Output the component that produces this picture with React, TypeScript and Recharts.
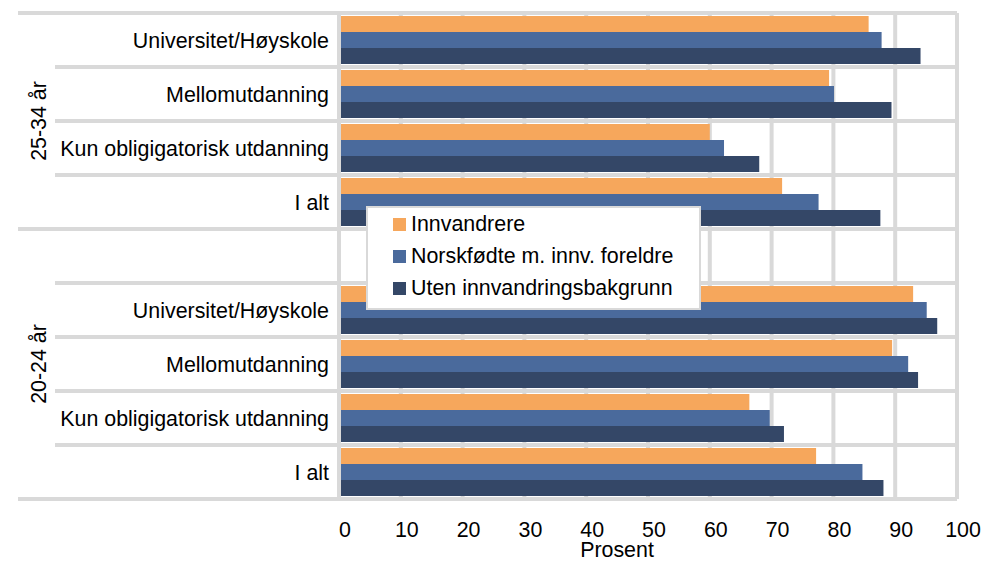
import React from "react";
import {
  BarChart,
  Bar,
  XAxis,
  YAxis,
  CartesianGrid,
  Label,
} from "recharts";

// Kategorier (tom kategori = mellomrom mellom aldersgruppene)
const CATEGORIES = [
  "Universitet/Høyskole",
  "Mellomutdanning",
  "Kun obligigatorisk utdanning",
  "I alt",
  "",
  "Universitet/Høyskole",
  "Mellomutdanning",
  "Kun obligigatorisk utdanning",
  "I alt",
];

const GROUPS = [
  { label: "25-34 år", size: 4 },
  { label: "20-24 år", size: 5 },
];

const INNVANDRERE = [85.7, 79.3, 60.0, 71.7, null, 92.9, 89.5, 66.4, 77.2];
const NORSKFODTE = [87.8, 80.1, 62.3, 77.6, null, 95.1, 92.1, 69.7, 84.7];
const UTEN_BAKGRUNN = [94.1, 89.4, 68.0, 87.6, null, 96.8, 93.7, 72.0, 88.1];

const X_TICKS = [0, 10, 20, 30, 40, 50, 60, 70, 80, 90, 100];

const SERIES = [
  { key: "innv", name: "Innvandrere", color: "#F6A75C", values: INNVANDRERE },
  { key: "norsk", name: "Norskfødte m. innv. foreldre", color: "#4A6A9C", values: NORSKFODTE },
  { key: "uten", name: "Uten innvandringsbakgrunn", color: "#344767", values: UTEN_BAKGRUNN },
];

const data = CATEGORIES.map((label, i) => {
  const row: any = { key: `c${i}`, label };
  SERIES.forEach((s) => {
    row[s.key] = s.values[i];
  });
  return row;
});

// layout
const W = 982;
const H = 561;
const MARGIN = { top: 13, right: 25, bottom: 0, left: 0 };
const Y_AXIS_W = 339;
const X_AXIS_H = 62;
const PLOT_H = H - MARGIN.top - MARGIN.bottom - X_AXIS_H;
const BAND = PLOT_H / CATEGORIES.length;
const GRID = "#D9D9D9";
const FONT = "'Liberation Sans', Arial, sans-serif";
const FS = 21.4;

const groupStarts: number[] = [];
GROUPS.reduce((acc, g) => {
  groupStarts.push(acc);
  return acc + g.size;
}, 0);

const CategoryTick = (props: any) => {
  const { y } = props;
  const index = props.index ?? props.payload?.index ?? 0;
  const top = y - BAND / 2;
  const gi = groupStarts.indexOf(index);
  const isLast = index === CATEGORIES.length - 1;
  return (
    <g>
      <line x1={gi >= 0 ? 18 : 55} x2={Y_AXIS_W} y1={top} y2={top} stroke={GRID} strokeWidth={4} />
      {isLast && (
        <line x1={18} x2={Y_AXIS_W} y1={top + BAND} y2={top + BAND} stroke={GRID} strokeWidth={4} />
      )}
      <text x={329} y={y} dy="0.355em" textAnchor="end" fontSize={FS} fill="#000" fontFamily={FONT}>
        {CATEGORIES[index]}
      </text>
      {gi >= 0 && (
        <text
          x={38}
          y={top + (GROUPS[gi].size * BAND) / 2}
          dy="0.355em"
          textAnchor="middle"
          fontSize={FS}
          fill="#000"
          fontFamily={FONT}
          transform={`rotate(-90 38 ${top + (GROUPS[gi].size * BAND) / 2})`}
        >
          {GROUPS[gi].label}
        </text>
      )}
    </g>
  );
};

const ValueTick = (props: any) => {
  const { x, payload } = props;
  return (
    <text x={x + 6} y={H - X_AXIS_H + 38} textAnchor="middle" fontSize={FS} fill="#000" fontFamily={FONT}>
      {payload.value}
    </text>
  );
};

export default function App() {
  return (
    <div style={{ position: "relative", width: W, height: H, background: "#fff" }}>
      <style>{"body{margin:0}"}</style>
      <BarChart
        width={W}
        height={H}
        data={data}
        layout="vertical"
        margin={MARGIN}
        barCategoryGap={3}
        barGap={0}
      >
        <CartesianGrid
          stroke={GRID}
          strokeWidth={4}
          horizontalCoordinatesGenerator={({ offset }: any) =>
            CATEGORIES.map((_, i) => offset.top + (i * offset.height) / CATEGORIES.length).concat(
              offset.top + offset.height
            )
          }
        />
        <XAxis
          type="number"
          domain={[0, 100]}
          ticks={X_TICKS}
          axisLine={false}
          tickLine={false}
          height={X_AXIS_H}
          tick={<ValueTick />}
          interval={0}
        >
          <Label
            content={(p: any) => {
              const vb = p.viewBox ?? { x: Y_AXIS_W, y: H - X_AXIS_H, width: 618, height: X_AXIS_H };
              return (
                <text
                  x={vb.x + vb.width / 2 - 31}
                  y={vb.y + vb.height - 4}
                  textAnchor="middle"
                  fontSize={FS}
                  fill="#000"
                  fontFamily={FONT}
                >
                  Prosent
                </text>
              );
            }}
          />
        </XAxis>
        <YAxis
          type="category"
          dataKey="key"
          width={Y_AXIS_W}
          axisLine={{ stroke: GRID, strokeWidth: 4 }}
          tickLine={false}
          interval={0}
          tick={<CategoryTick />}
        />
        {SERIES.map((s) => (
          <Bar key={s.key} dataKey={s.key} name={s.name} fill={s.color} isAnimationActive={false} />
        ))}
      </BarChart>
      <div
        style={{
          position: "absolute",
          left: 366,
          top: 206,
          width: 331,
          height: 100,
          border: `2px solid ${GRID}`,
          background: "#fff",
          fontFamily: FONT,
          fontSize: FS,
          color: "#000",
        }}
      >
        {SERIES.map((s) => (
          <div key={s.key} style={{ display: "flex", alignItems: "center", height: 32, paddingLeft: 25 }}>
            <span style={{ width: 13, height: 13, background: s.color, marginRight: 5, display: "inline-block" }} />
            <span>{s.name}</span>
          </div>
        ))}
      </div>
    </div>
  );
}
